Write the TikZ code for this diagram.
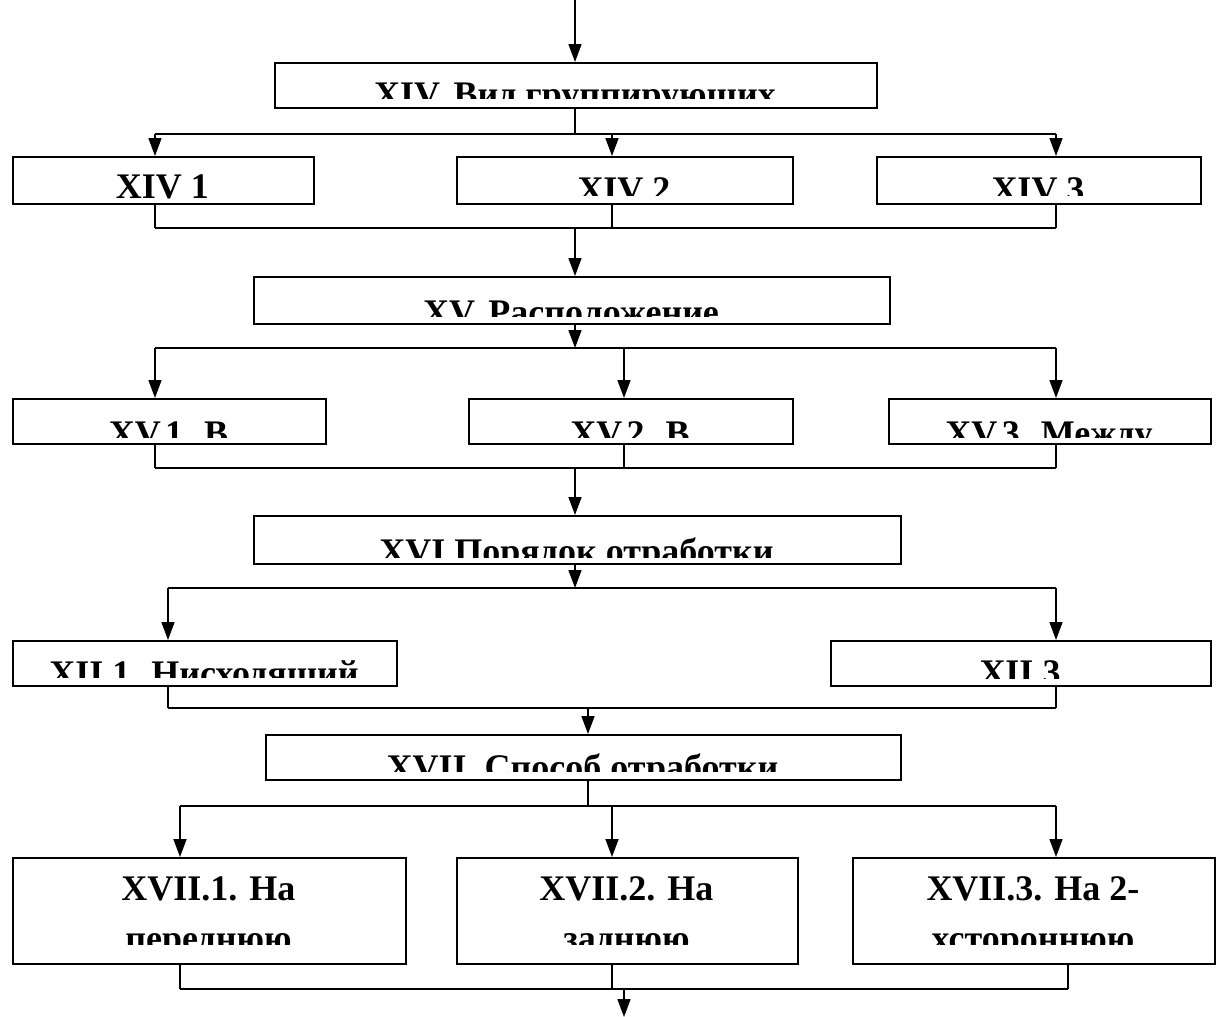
\documentclass[tikz,border=0pt]{standalone}
\usepackage{fontspec}
\setmainfont{Liberation Serif}
\usetikzlibrary{arrows.meta}

\tikzset{
  frame/.style={draw, line width=1.6pt, inner sep=0pt, anchor=north west},
  link/.style={line width=1.6pt},
  arr/.style={link, -{Triangle[length=18pt,width=13pt]}},
  lbl/.style={anchor=base, inner sep=0pt, font=\fontsize{36}{44}\selectfont\bfseries},
}

% framed box; its text is clipped at a given height
\newcommand\cbox[8]{% name, x1, y1, x2, y2, clip y, baseline y, text
  \node[frame, minimum width={(#4-#2)*1pt}, minimum height={(#5-#3)*1pt}] (#1) at (#2,#3) {};
  \begin{scope}
    \clip (#2,#3) rectangle (#4,#6);
    \node[lbl] at ({(#2+#4)/2},#7) {#8};
  \end{scope}}

% two-line box, both lines clipped at a given height
\newcommand\tbox[9]{% name, x1, y1, x2, y2, clip y, first baseline, line 1, line 2
  \node[frame, minimum width={(#4-#2)*1pt}, minimum height={(#5-#3)*1pt}] (#1) at (#2,#3) {};
  \begin{scope}
    \clip (#2,#3) rectangle (#4,#6);
    \node[lbl] at ({(#2+#4)/2},#7) {#8};
    \node[lbl] at ({(#2+#4)/2},#7+50) {#9};
  \end{scope}}

\begin{document}
\begin{tikzpicture}[x=1pt,y=-1pt]
\useasboundingbox (0,0) rectangle (1216,1017);

% ---- boxes ----
\cbox{xiv}{274}{62}{876}{107}{98}{106}{XIV. Вид группирующих}
\cbox{r11}{12}{156}{313}{203}{200}{198}{XIV 1}
\cbox{r12}{456}{156}{792}{203}{195}{201}{XIV 2}
\cbox{r13}{876}{156}{1200}{203}{195}{201}{XIV 3}

\cbox{xv}{253}{276}{889}{323}{316}{324}{XV. Расположение}
\cbox{r21}{12}{398}{325}{443}{437}{445}{XV.1. В}
\cbox{r22}{468}{398}{792}{443}{437}{445}{XV.2. В}
\cbox{r23}{888}{398}{1210}{443}{437}{445}{XV.3. Между}

\cbox{xvi}{253}{515}{900}{563}{557}{563}{XVI Порядок отработки}
\cbox{r31}{12}{640}{396}{685}{677}{685}{XII.1. Нисходящий}
\cbox{r33}{830}{640}{1210}{685}{678}{684}{XII 3}

\cbox{xvii}{265}{734}{900}{779}{771}{779}{XVII. Способ отработки}
\tbox{r41}{12}{857}{405}{963}{944}{900}{XVII.1. На}{переднюю}
\tbox{r42}{456}{857}{797}{963}{944}{900}{XVII.2. На}{заднюю}
\tbox{r43}{852}{857}{1214}{963}{944}{900}{XVII.3. На 2-}{хстороннюю}

% ---- connectors ----
\coordinate (in) at (575,0);
\draw[arr] (in) -- (in |- xiv.north);

% level XIV
\coordinate (j1) at (575,134);
\coordinate (j1a) at (155,134);
\coordinate (j1b) at (612,134);
\coordinate (j1c) at (1056,134);
\draw[link] (xiv.south -| j1) -- (j1);
\draw[link] (j1a) -- (j1c);
\foreach \c/\n in {j1a/r11, j1b/r12, j1c/r13} \draw[arr] (\c) -- (\c |- \n.north);
\coordinate (m1) at (575,228);
\coordinate (m1a) at (155,228);
\coordinate (m1b) at (612,228);
\coordinate (m1c) at (1056,228);
\foreach \c/\n in {m1a/r11, m1b/r12, m1c/r13} \draw[link] (\c |- \n.south) -- (\c);
\draw[link] (m1a) -- (m1c);
\draw[arr] (m1) -- (m1 |- xv.north);

% level XV
\coordinate (j2) at (575,348);
\coordinate (j2a) at (155,348);
\coordinate (j2b) at (624,348);
\coordinate (j2c) at (1056,348);
\draw[arr] (xv.south -| j2) -- (j2);
\draw[link] (j2a) -- (j2c);
\foreach \c/\n in {j2a/r21, j2b/r22, j2c/r23} \draw[arr] (\c) -- (\c |- \n.north);
\coordinate (m2) at (575,468);
\coordinate (m2a) at (155,468);
\coordinate (m2b) at (624,468);
\coordinate (m2c) at (1056,468);
\foreach \c/\n in {m2a/r21, m2b/r22, m2c/r23} \draw[link] (\c |- \n.south) -- (\c);
\draw[link] (m2a) -- (m2c);
\draw[arr] (m2) -- (m2 |- xvi.north);

% level XVI
\coordinate (j3) at (575,588);
\coordinate (j3a) at (168,588);
\coordinate (j3c) at (1056,588);
\draw[arr] (xvi.south -| j3) -- (j3);
\draw[link] (j3a) -- (j3c);
\foreach \c/\n in {j3a/r31, j3c/r33} \draw[arr] (\c) -- (\c |- \n.north);
\coordinate (m3) at (588,708);
\coordinate (m3a) at (168,708);
\coordinate (m3c) at (1056,708);
\foreach \c/\n in {m3a/r31, m3c/r33} \draw[link] (\c |- \n.south) -- (\c);
\draw[link] (m3a) -- (m3c);
\draw[arr] (m3) -- (m3 |- xvii.north);

% level XVII
\coordinate (j4) at (588,806);
\coordinate (j4a) at (180,806);
\coordinate (j4b) at (612,806);
\coordinate (j4c) at (1056,806);
\draw[link] (xvii.south -| j4) -- (j4);
\draw[link] (j4a) -- (j4c);
\foreach \c/\n in {j4a/r41, j4b/r42, j4c/r43} \draw[arr] (\c) -- (\c |- \n.north);
\coordinate (m4a) at (180,989);
\coordinate (m4b) at (612,989);
\coordinate (m4c) at (1068,989);
\coordinate (m4) at (624,989);
\coordinate (out) at (624,1017);
\foreach \c/\n in {m4a/r41, m4b/r42, m4c/r43} \draw[link] (\c |- \n.south) -- (\c);
\draw[link] (m4a) -- (m4c);
\draw[arr] (m4) -- (out);
\end{tikzpicture}
\end{document}
